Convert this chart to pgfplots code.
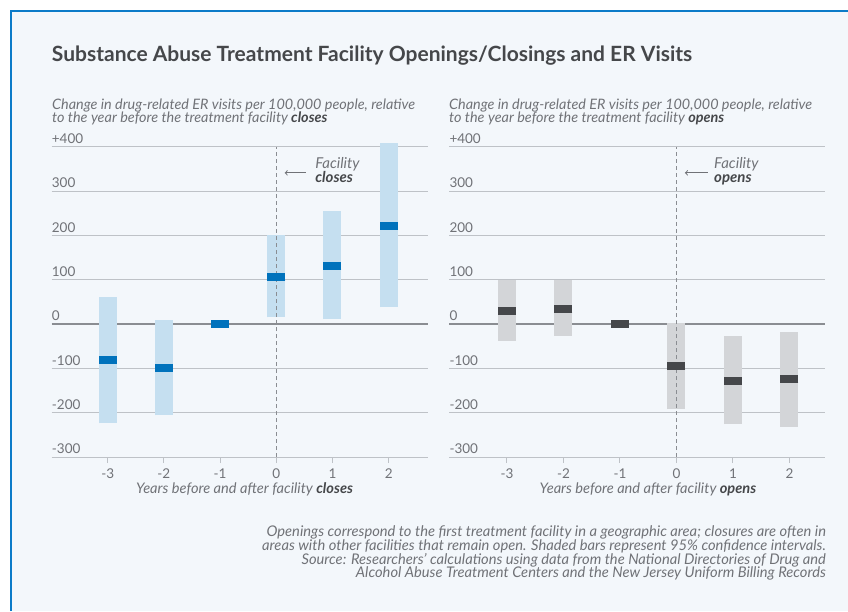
\documentclass[border=0pt]{standalone}
\usepackage{fontspec}
\setmainfont{Lato}
\usepackage{pgfplots}
\pgfplotsset{compat=1.18}
\definecolor{bg}{HTML}{F3F7FB}
\definecolor{framecol}{HTML}{0B7BC8}
\definecolor{cilight}{HTML}{C5DFF0}
\definecolor{estblue}{HTML}{0072BC}
\definecolor{cigray}{HTML}{D3D5D8}
\definecolor{estgray}{HTML}{45474A}
\definecolor{gridcol}{HTML}{BEC2C7}
\definecolor{zerocol}{HTML}{8A8D92}
\definecolor{txt}{HTML}{707277}
\definecolor{titlecol}{HTML}{45474A}
\pgfplotsset{
  myax/.style={
    scale only axis, width=376pt, height=310.3pt,
    ymin=-300, ymax=400, clip=false,
    axis line style={draw=none},
    xtick={-3,-2,-1,0,1,2}, xticklabels={-3,-2,-1,0,1,2},
    ytick={-300,-200,-100,0,100,200,300,400},
    yticklabels={-300,-200,-100,0,100,200,300,+400},
    ymajorgrids, grid style={gridcol, line width=1pt},
    xtick pos=bottom, xtick align=outside, major tick length=6pt,
    ytick style={draw=none}, xtick style={gridcol, line width=1pt},
    tick label style={font=\fontsize{13.5}{13.5}\selectfont, text=txt},
    yticklabel style={anchor=south west, inner sep=0pt, yshift=3pt},
    xticklabel style={yshift=-2.5pt},
  }
}
\tikzset{
  sub/.style={anchor=base west, inner sep=0pt, font=\itshape\fontsize{14.4}{14.4}\selectfont, text=txt},
  note/.style={anchor=base east, inner sep=0pt, font=\itshape\fontsize{14.7}{14.7}\selectfont, text=txt},
  ann/.style={anchor=base west, inner sep=0pt, font=\itshape\fontsize{15}{15}\selectfont, text=txt},
}
\begin{document}
\begin{tikzpicture}[x=1pt,y=1pt]
\useasboundingbox (0,0) rectangle (848,611);
\fill[white] (0,0) rectangle (848,611);
\fill[bg] (11,0) rectangle (848,600);
\draw[framecol, line width=2.5pt] (11,0) -- (11,600) -- (848,600);
\node[anchor=base west, inner sep=0pt, font=\bfseries\fontsize{21}{21}\selectfont, text=titlecol] at (51.7,611-61.7) {Substance Abuse Treatment Facility Openings/Closings and ER Visits};
\node[sub] at (52,611-110) {Change in drug-related ER visits per 100,000 people, relative};
\node[sub] at (52,611-123) {to the year before the treatment facility \textcolor{titlecol}{\bfseries closes}};
\node[sub] at (449,611-110) {Change in drug-related ER visits per 100,000 people, relative};
\node[sub] at (449,611-123) {to the year before the treatment facility \textcolor{titlecol}{\bfseries opens}};

\begin{axis}[myax, xmin=-3.996, xmax=2.694, at={(51.7pt,154pt)}, anchor=south west]
\addplot[zerocol, line width=1.3pt] coordinates {(-3.996,0) (2.694,0)};
\addplot[cilight, line width=18pt, unbounded coords=jump] coordinates {(-3,-224) (-3,62) (-3,nan) (-2,-206) (-2,8) (-2,nan) (0,15) (0,200) (0,nan) (1,11) (1,254) (1,nan) (2,38) (2,408)};
\addplot[zerocol, line width=1pt, dash pattern=on 4pt off 3pt] coordinates {(0,-300) (0,400)};
\addplot[only marks, mark=-, mark size=9pt, mark options={line width=8pt, estblue}] coordinates {(-3,-82) (-2,-100) (-1,0) (0,105) (1,132) (2,222)};
\draw[txt, line width=1pt, <-] (axis cs:0.15,341) -- (axis cs:0.52,341);
\node[ann] at (axis cs:0.69,350.8) {Facility};
\node[ann] at (axis cs:0.69,318.3) {\textcolor{titlecol}{\bfseries closes}};
\end{axis}

\begin{axis}[myax, xmin=-4.02, xmax=2.635, at={(449.3pt,154pt)}, anchor=south west]
\addplot[zerocol, line width=1.3pt] coordinates {(-4.02,0) (2.635,0)};
\addplot[cigray, line width=18pt, unbounded coords=jump] coordinates {(-3,-38) (-3,100) (-3,nan) (-2,-27) (-2,99) (-2,nan) (0,-192) (0,3) (0,nan) (1,-226) (1,-28) (1,nan) (2,-232) (2,-17)};
\addplot[zerocol, line width=1pt, dash pattern=on 4pt off 3pt] coordinates {(0,-300) (0,400)};
\addplot[only marks, mark=-, mark size=9pt, mark options={line width=8pt, estgray}] coordinates {(-3,30) (-2,35) (-1,0) (0,-94) (1,-128) (2,-123)};
\draw[txt, line width=1pt, <-] (axis cs:0.15,341) -- (axis cs:0.55,341);
\node[ann] at (axis cs:0.665,350.8) {Facility};
\node[ann] at (axis cs:0.665,318.3) {\textcolor{titlecol}{\bfseries opens}};
\end{axis}

\node[anchor=base, inner sep=0pt, font=\itshape\fontsize{14.6}{14.6}\selectfont, text=txt] at (244.6,611-493.5) {Years before and after facility \textcolor{titlecol}{\bfseries closes}};
\node[anchor=base, inner sep=0pt, font=\itshape\fontsize{14.6}{14.6}\selectfont, text=txt] at (648,611-493.5) {Years before and after facility \textcolor{titlecol}{\bfseries opens}};

\node[note] at (826,611-536.7) {Openings correspond to the first treatment facility in a geographic area; closures are often in};
\node[note] at (826,611-550.4) {areas with other facilities that remain open. Shaded bars represent 95\% confidence intervals.};
\node[note] at (826,611-564.1) {Source: Researchers’ calculations using data from the National Directories of Drug and};
\node[note] at (826,611-577.8) {Alcohol Abuse Treatment Centers and the New Jersey Uniform Billing Records};
\end{tikzpicture}
\end{document}
